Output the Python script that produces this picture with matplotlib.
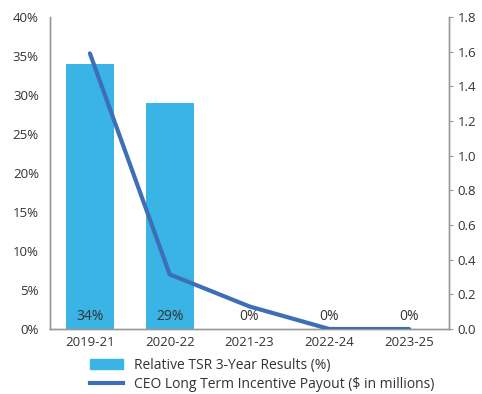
import numpy as np
import matplotlib.pyplot as plt
from matplotlib.lines import Line2D
from matplotlib.patches import Patch

plt.rcParams['font.family'] = ['Open Sans', 'DejaVu Sans']

# data
periods = ['2019-21', '2020-22', '2021-23', '2022-24', '2023-25']
tsr = [34, 29, 0, 0, 0]                    # Relative TSR 3-year results (%)
payout = [1.59, 0.315, 0.13, 0.0, 0.0]     # CEO LTI payout ($M)

bar_c = '#39b4e4'
line_c = '#3d6fb6'
txt_c = '#333333'
spine_c = '#999999'

fig = plt.figure(figsize=(4.82, 3.94), dpi=100)
ax = fig.add_axes([50/482, 1 - 329/394, 399/482, 312/394])
ax2 = ax.twinx()

x = np.arange(len(periods))
ax.bar(x, tsr, width=0.6, color=bar_c, zorder=2)
for xi, v in zip(x, tsr):
    ax.text(xi, 0.6, f'{v}%', ha='center', va='bottom', fontsize=10, color=txt_c, zorder=4)

ax2.plot(x, payout, color=line_c, lw=3, solid_capstyle='round', zorder=3)

ax.set_xlim(-0.5, 4.5)
ax.set_ylim(0, 40)
ax.set_yticks(range(0, 41, 5))
ax.set_yticklabels([f'{t}%' for t in range(0, 41, 5)])
ax.set_xticks(x)
ax.set_xticklabels(periods)
ax2.set_ylim(0, 1.8)
ax2.set_yticks(np.arange(0, 1.81, 0.2))
ax2.set_yticklabels([f'{t:.1f}' for t in np.arange(0, 1.81, 0.2)])

for a in (ax, ax2):
    a.spines['top'].set_visible(False)
    for s in ('left', 'right', 'bottom'):
        a.spines[s].set_color(spine_c)
        a.spines[s].set_linewidth(1)
ax.tick_params(axis='y', length=0, labelsize=9.5, colors=txt_c, pad=8)
ax.tick_params(axis='x', length=0, labelsize=9.5, colors=txt_c, pad=5)
ax2.tick_params(axis='y', length=3, color=spine_c, labelsize=9.5, labelcolor=txt_c, pad=3)
ax.set_zorder(ax2.get_zorder() - 1)
ax.patch.set_visible(False)

handles = [Patch(color=bar_c), Line2D([0], [0], color=line_c, lw=3)]
labels = ['Relative TSR 3-Year Results (%)', 'CEO Long Term Incentive Payout ($ in millions)']
fig.legend(handles, labels, loc='upper left', bbox_to_anchor=(90/482, 1 - 358/394),
           frameon=False, fontsize=10, labelcolor=txt_c, handlelength=2.4,
           handleheight=0.7, handletextpad=0.75, labelspacing=0.3, borderaxespad=0,
           borderpad=0)

fig.savefig('out.png', dpi=100)
